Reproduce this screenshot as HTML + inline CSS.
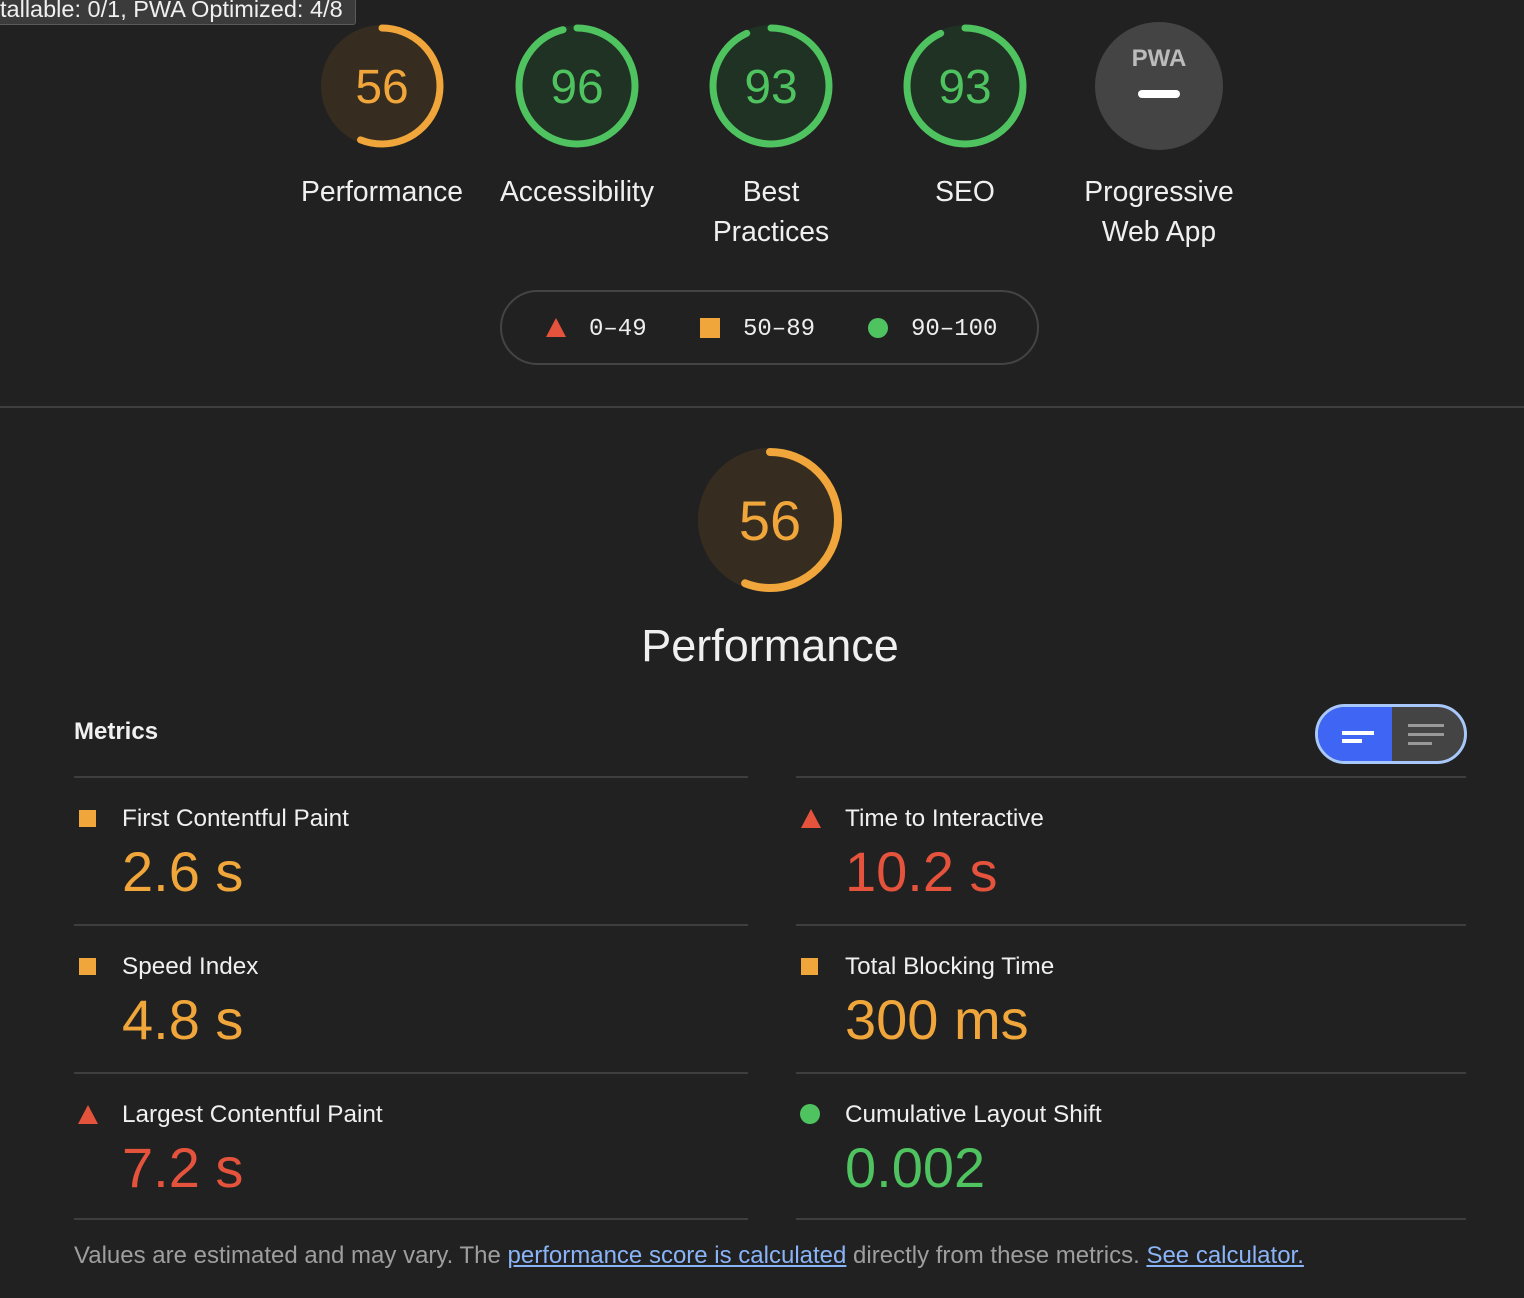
<!DOCTYPE html>
<html><head><meta charset="utf-8"><style>
body{margin:0;width:1524px;height:1298px;background:#212121;font-family:"Liberation Sans",sans-serif;color:#e8e8e8;position:relative;overflow:hidden}
.a{position:absolute}
.tip{left:-2px;top:-2px;width:358px;height:27px;background:#3b3b3b;border:1px solid #5a5a5a;border-radius:3px;font-size:23.5px;line-height:21px;color:#f0f0f0;padding-left:1px;box-sizing:border-box;white-space:nowrap;overflow:hidden}
.lbl{font-size:28.3px;text-align:center;width:240px;line-height:40px;color:#f0f0f0}
.leg{left:500px;top:290px;width:539px;height:75px;border:2px solid #444;border-radius:40px;box-sizing:border-box}
.mono{font-family:"Liberation Mono",monospace;font-size:24px;color:#eee}
.hr{height:2px;background:#3e3e3e}
.ml{font-size:24.3px;color:#f0f0f0}
.mv{font-size:56px}
.o{color:#f0a63a}.r{color:#e5533d}.g{color:#4fc35f}
a{color:#8ab4f8;text-decoration:underline}
</style></head><body>
<div class="a tip">tallable: 0/1, PWA Optimized: 4/8</div>
<svg class="a" style="left:0;top:0" width="1524" height="700">
 <g transform="translate(382,86)"><circle r="61" fill="#362d20"/><circle r="58" fill="none" stroke="#f0a63a" stroke-width="7" stroke-dasharray="204 400" transform="rotate(-90)" stroke-linecap="round"/><text y="17" text-anchor="middle" font-size="48" fill="#f0a63a" font-family="Liberation Sans">56</text></g>
 <g transform="translate(577,86)"><circle r="61" fill="#1f3224"/><circle r="58" fill="none" stroke="#4fc35f" stroke-width="7" stroke-dasharray="350 400" transform="rotate(-90)" stroke-linecap="round"/><text y="17" text-anchor="middle" font-size="48" fill="#4fc35f" font-family="Liberation Sans">96</text></g>
 <g transform="translate(771,86)"><circle r="61" fill="#1f3224"/><circle r="58" fill="none" stroke="#4fc35f" stroke-width="7" stroke-dasharray="339 400" transform="rotate(-90)" stroke-linecap="round"/><text y="17" text-anchor="middle" font-size="48" fill="#4fc35f" font-family="Liberation Sans">93</text></g>
 <g transform="translate(965,86)"><circle r="61" fill="#1f3224"/><circle r="58" fill="none" stroke="#4fc35f" stroke-width="7" stroke-dasharray="339 400" transform="rotate(-90)" stroke-linecap="round"/><text y="17" text-anchor="middle" font-size="48" fill="#4fc35f" font-family="Liberation Sans">93</text></g>
 <g transform="translate(1159,86)"><circle r="64" fill="#444"/><text y="-20" text-anchor="middle" font-size="24" font-weight="bold" fill="#bbb" font-family="Liberation Sans">PWA</text><rect x="-21" y="4" width="42" height="8" rx="4" fill="#fff"/></g>
 <g transform="translate(770,520)"><circle r="72" fill="#362d20"/><circle r="68" fill="none" stroke="#f0a63a" stroke-width="8" stroke-dasharray="239 500" transform="rotate(-90)" stroke-linecap="round"/><text y="20" text-anchor="middle" font-size="56" fill="#f0a63a" font-family="Liberation Sans">56</text></g>
</svg>
<div class="a lbl" style="left:262px;top:171px">Performance</div>
<div class="a lbl" style="left:457px;top:171px">Accessibility</div>
<div class="a lbl" style="left:651px;top:171px">Best<br>Practices</div>
<div class="a lbl" style="left:845px;top:171px">SEO</div>
<div class="a lbl" style="left:1039px;top:171px">Progressive<br>Web App</div>
<div class="a leg"></div>
<svg class="a" style="left:545px;top:317px" width="22" height="22"><polygon points="11,1 21,20 1,20" fill="#e5533d"/></svg>
<div class="a mono" style="left:589px;top:316px">0–49</div>
<div class="a" style="left:700px;top:318px;width:20px;height:20px;background:#f0a63a"></div>
<div class="a mono" style="left:743px;top:316px">50–89</div>
<div class="a" style="left:868px;top:318px;width:20px;height:20px;border-radius:50%;background:#4fc35f"></div>
<div class="a mono" style="left:911px;top:316px">90–100</div>
<div class="a" style="left:0;top:406px;width:1524px;height:2px;background:#3e3e3e"></div>
<div class="a" style="left:0;top:620px;width:1540px;text-align:center;font-size:45px;color:#f0f0f0">Performance</div>
<div class="a" style="left:74px;top:718px;font-size:24px;font-weight:bold;color:#f0f0f0">Metrics</div>
<div class="a" style="left:1315px;top:704px;width:152px;height:60px;border:3px solid #a8c7fa;border-radius:32px;box-sizing:border-box;overflow:hidden;background:#444">
 <div class="a" style="left:0;top:0;width:74px;height:54px;background:#3f65f5"></div>
 <div class="a" style="left:24px;top:24px;width:32px;height:4px;background:#fff"></div>
 <div class="a" style="left:24px;top:32px;width:20px;height:4px;background:#fff"></div>
 <div class="a" style="left:90px;top:17px;width:36px;height:3px;background:#999"></div>
 <div class="a" style="left:90px;top:26px;width:36px;height:3px;background:#999"></div>
 <div class="a" style="left:90px;top:35px;width:24px;height:3px;background:#999"></div>
</div>
<div class="a hr" style="left:74px;top:776px;width:674px"></div><div class="a hr" style="left:796px;top:776px;width:670px"></div>
<div class="a hr" style="left:74px;top:924px;width:674px"></div><div class="a hr" style="left:796px;top:924px;width:670px"></div>
<div class="a hr" style="left:74px;top:1072px;width:674px"></div><div class="a hr" style="left:796px;top:1072px;width:670px"></div>
<div class="a hr" style="left:74px;top:1218px;width:674px"></div><div class="a hr" style="left:796px;top:1218px;width:670px"></div>

<div class="a" style="left:79px;top:810px;width:17px;height:17px;background:#f0a63a"></div>
<div class="a ml" style="left:122px;top:805px">First Contentful Paint</div>
<div class="a mv o" style="left:122px;top:839px">2.6 s</div>
<svg class="a" style="left:800px;top:808px" width="22" height="22"><polygon points="11,1 21,20 1,20" fill="#e5533d"/></svg>
<div class="a ml" style="left:845px;top:805px">Time to Interactive</div>
<div class="a mv r" style="left:845px;top:839px">10.2 s</div>

<div class="a" style="left:79px;top:958px;width:17px;height:17px;background:#f0a63a"></div>
<div class="a ml" style="left:122px;top:953px">Speed Index</div>
<div class="a mv o" style="left:122px;top:987px">4.8 s</div>
<div class="a" style="left:801px;top:958px;width:17px;height:17px;background:#f0a63a"></div>
<div class="a ml" style="left:845px;top:953px">Total Blocking Time</div>
<div class="a mv o" style="left:845px;top:987px">300 ms</div>

<svg class="a" style="left:77px;top:1104px" width="22" height="22"><polygon points="11,1 21,20 1,20" fill="#e5533d"/></svg>
<div class="a ml" style="left:122px;top:1101px">Largest Contentful Paint</div>
<div class="a mv r" style="left:122px;top:1135px">7.2 s</div>
<div class="a" style="left:800px;top:1104px;width:20px;height:20px;border-radius:50%;background:#4fc35f"></div>
<div class="a ml" style="left:845px;top:1101px">Cumulative Layout Shift</div>
<div class="a mv g" style="left:845px;top:1135px">0.002</div>

<div class="a" style="left:74px;top:1242px;font-size:24px;color:#9e9e9e;white-space:nowrap">Values are estimated and may vary. The <a>performance score is calculated</a> directly from these metrics. <a>See calculator.</a></div>
</body></html>
